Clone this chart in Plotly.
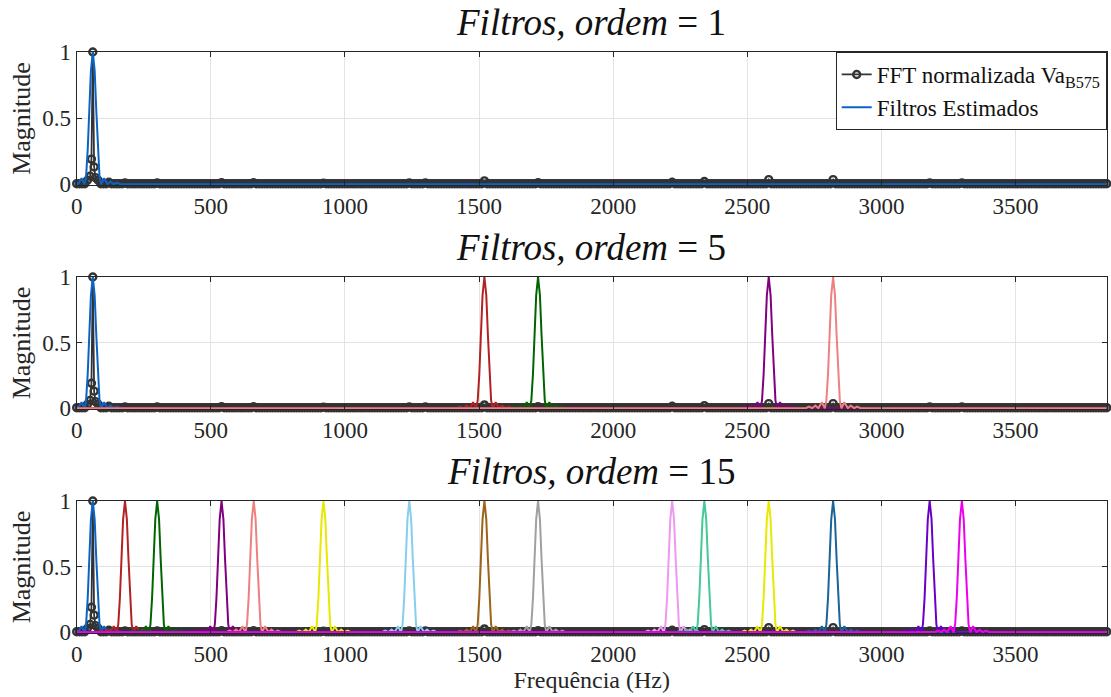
import plotly.graph_objects as go

# ---------------- data ----------------
# FFT normalised spectrum: baseline grid + notable points
fft_step_hz = 10
fft_max_hz = 3840
fft_floor = 0.004
fft_peak_freqs = [40, 50, 55, 60, 65, 70, 80, 120, 180, 300, 540, 660, 920,
                  1240, 1300, 1520, 1720, 2220, 2340, 2580, 2820, 3180, 3300]
fft_peak_mags = [0.03, 0.06, 0.19, 1.0, 0.13, 0.05, 0.03, 0.015, 0.01, 0.01, 0.012, 0.012, 0.008,
                 0.01, 0.01, 0.025, 0.012, 0.015, 0.02, 0.035, 0.035, 0.01, 0.01]

# filter response profile around its centre (offset in Hz, magnitude)
filter_offsets = [-102, -90, -78, -66, -55, -42, -31, -25, -19, -13, -7, 0,
                  7, 13, 19, 25, 31, 42, 55, 66, 78, 90, 102]
filter_profile = [0.0, 0.012, 0.0, 0.02, 0.0, 0.045, 0.0, 0.06, 0.26, 0.56, 0.86, 1.0,
                  0.86, 0.56, 0.26, 0.06, 0.0, 0.045, 0.0, 0.02, 0.0, 0.012, 0.0]

centers_ord1 = [60]
centers_ord5 = [60, 1520, 1720, 2580, 2820]
centers_ord15 = [60, 180, 300, 540, 660, 920, 1240, 1520, 1720, 2220, 2340, 2580, 2820, 3180, 3300]

colors_ord1 = ["#0b63c5"]
colors_ord5 = ["#0b63c5", "#b22222", "#006400", "#800080", "#ee8080"]
colors_ord15 = ["#0b63c5", "#b22222", "#006400", "#800080", "#ee8080", "#e8e800", "#87ceeb",
                "#9c6418", "#a0a0a0", "#ee99ee", "#45c995", "#e8e800", "#1a6496", "#6a00c8", "#ee00ee"]

titles = ["<i>Filtros, ordem</i> = 1", "<i>Filtros, ordem</i> = 5", "<i>Filtros, ordem</i> = 15"]
x_ticks = [0, 500, 1000, 1500, 2000, 2500, 3000, 3500]
y_ticks = [0, 0.5, 1]
y_ticktext = ["0", "0.5", "1"]

# ---------------- build FFT series ----------------
fft_map = {f: fft_floor for f in range(0, fft_max_hz + 1, fft_step_hz)}
for f, m in zip(fft_peak_freqs, fft_peak_mags):
    fft_map[f] = m
fft_x = sorted(fft_map)
fft_y = [fft_map[f] for f in fft_x]

# ---------------- layout geometry ----------------
W, H = 1111, 697
xdom = [76.7 / W, 1106.7 / W]
ydoms = [(52, 185), (277, 409), (501, 633)]
FONT = "Liberation Serif, Times New Roman, serif"

fig = go.Figure()

panels = [(centers_ord1, colors_ord1), (centers_ord5, colors_ord5), (centers_ord15, colors_ord15)]
for i, (centers, cols) in enumerate(panels):
    ax = "" if i == 0 else str(i + 1)
    fig.add_trace(go.Scatter(
        x=fft_x, y=fft_y, mode="lines+markers",
        line=dict(color="#333333", width=1.8),
        marker=dict(symbol="circle-open", size=7, color="#333333", line=dict(width=2.4)),
        cliponaxis=False,
        name="FFT normalizada Va<sub>B575</sub>", legendgroup="fft",
        showlegend=(i == 0), xaxis="x" + ax, yaxis="y" + ax))
    for j, (c, col) in enumerate(zip(centers, cols)):
        fx = [0] + [c + o for o in filter_offsets] + [fft_max_hz]
        fy = [0] + filter_profile + [0]
        fig.add_trace(go.Scatter(
            x=fx, y=fy, mode="lines", line=dict(color=col, width=2),
            name="Filtros Estimados", legendgroup="filt",
            showlegend=(i == 0 and j == 0), xaxis="x" + ax, yaxis="y" + ax))

layout = dict(
    width=W, height=H, margin=dict(l=0, r=0, t=0, b=0, autoexpand=False),
    paper_bgcolor="white", plot_bgcolor="white",
    font=dict(family=FONT, size=23, color="#262626"),
    legend=dict(x=1106.7 / W, y=1 - 52 / H, xanchor="right", yanchor="top",
                bgcolor="white", bordercolor="#262626", borderwidth=1,
                font=dict(family=FONT, size=23, color="#111111"),
                tracegroupgap=0, itemwidth=30),
    showlegend=True,
)
annotations = []
for i, (top, bot) in enumerate(ydoms):
    ax = "" if i == 0 else str(i + 1)
    common = dict(showgrid=True, gridcolor="#e3e3e3", gridwidth=1, zeroline=False,
                  showline=True, linecolor="#262626", linewidth=1, mirror="ticks",
                  ticks="inside", ticklen=5, tickcolor="#262626", automargin=False,
                  tickfont=dict(family=FONT, size=23, color="#262626"))
    layout["xaxis" + ax] = dict(common, domain=xdom, range=[0, fft_max_hz],
                                tickvals=x_ticks, anchor="y" + ax)
    layout["yaxis" + ax] = dict(common, domain=[1 - bot / H, 1 - top / H], range=[-0.006, 1],
                                tickvals=y_ticks, ticktext=y_ticktext, anchor="x" + ax,
                                title=dict(text="Magnitude", standoff=4,
                                           font=dict(family=FONT, size=26, color="#262626")))
    annotations.append(dict(text=titles[i], x=591 / W, y=1 - (top - 30) / H,
                            xref="paper", yref="paper", xanchor="center", yanchor="middle",
                            showarrow=False, font=dict(family=FONT, size=37, color="#111111")))
layout["xaxis3"]["title"] = dict(text="Frequência (Hz)", standoff=2,
                                 font=dict(family=FONT, size=24, color="#262626"))
layout["annotations"] = annotations
fig.update_layout(**layout)

fig.write_html("out.html")
